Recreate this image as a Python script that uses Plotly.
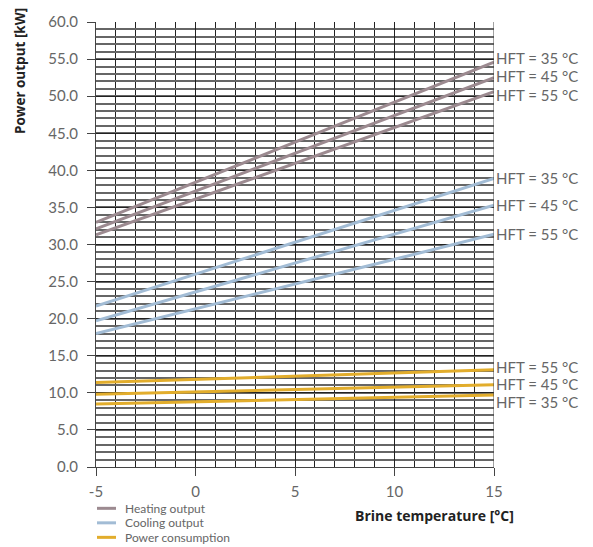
import plotly.graph_objects as go

brine_temp = [-5, 0, 5, 10, 15]

heating_35 = [33.0, 38.4, 43.8, 49.2, 54.6]
heating_45 = [32.1, 37.2, 42.3, 47.4, 52.5]
heating_55 = [31.3, 36.1, 40.9, 45.8, 50.6]
cooling_35 = [21.7, 26.0, 30.3, 34.6, 38.9]
cooling_45 = [19.7, 23.6, 27.5, 31.4, 35.3]
cooling_55 = [18.0, 21.3, 24.7, 28.0, 31.4]
power_55 = [11.4, 11.8, 12.2, 12.6, 13.1]
power_45 = [9.8, 10.1, 10.5, 10.8, 11.1]
power_35 = [8.5, 8.8, 9.1, 9.4, 9.7]

label_texts = ["HFT = 35 °C", "HFT = 45 °C", "HFT = 55 °C",
               "HFT = 35 °C", "HFT = 45 °C", "HFT = 55 °C",
               "HFT = 55 °C", "HFT = 45 °C", "HFT = 35 °C"]
label_y = [55.2, 52.7, 50.1, 38.9, 35.3, 31.4, 13.5, 11.2, 8.7]

x_ticks = [-5, 0, 5, 10, 15]
x_tick_labels = ["-5", "0", "5", "10", "15"]
y_ticks = [0, 5, 10, 15, 20, 25, 30, 35, 40, 45, 50, 55, 60]

legend_names = ["Heating output", "Cooling output", "Power consumption"]

C_HEAT = "#9c8a90"
C_COOL = "#a2bcd5"
C_POW = "#e2ad2c"
legend_colors = [C_HEAT, C_COOL, C_POW]

FONT = "Lato, Open Sans, sans-serif"

fig = go.Figure()

series = [
    (heating_35, C_HEAT, "Heating output"),
    (heating_45, C_HEAT, "Heating output"),
    (heating_55, C_HEAT, "Heating output"),
    (cooling_35, C_COOL, "Cooling output"),
    (cooling_45, C_COOL, "Cooling output"),
    (cooling_55, C_COOL, "Cooling output"),
    (power_55, C_POW, "Power consumption"),
    (power_45, C_POW, "Power consumption"),
    (power_35, C_POW, "Power consumption"),
]
for vals, col, name in series:
    fig.add_trace(go.Scatter(x=brine_temp, y=vals, mode="lines", name=name,
                             showlegend=False,
                             line=dict(color=col, width=3), hoverinfo="skip"))

for t, yv in zip(label_texts, label_y):
    fig.add_annotation(x=15, y=yv, xref="x", yref="y", text=t, showarrow=False,
                       xanchor="left", yanchor="middle", xshift=0,
                       font=dict(family=FONT, size=15, color="#666"))

# manual legend below the plot (paper coordinates)
PLOT_H = 444.7
PLOT_W = 398.0
legend_rows_px = [508, 522.5, 537]
for i, (nm, col) in enumerate(zip(legend_names, legend_colors)):
    ypp = (466.7 - legend_rows_px[i]) / PLOT_H
    fig.add_shape(type="line", xref="paper", yref="paper",
                  x0=(97 - 96) / PLOT_W, x1=(116 - 96) / PLOT_W, y0=ypp, y1=ypp,
                  line=dict(color=col, width=3))
    fig.add_annotation(x=(123 - 96) / PLOT_W, y=ypp, xref="paper", yref="paper",
                       text=nm, showarrow=False, xanchor="left", yanchor="middle",
                       font=dict(family=FONT, size=12, color="#666"))

fig.add_annotation(x=(20 - 96) / PLOT_W, y=(466.7 - 6) / PLOT_H, xref="paper", yref="paper",
                   text="<b>Power output [kW]</b>",
                   textangle=-90, showarrow=False, xanchor="center", yanchor="top",
                   font=dict(family="Open Sans, sans-serif", size=13.5, color="#222"))
fig.add_annotation(x=(434 - 96) / PLOT_W, y=(466.7 - 515) / PLOT_H, xref="paper", yref="paper",
                   text="<b>Brine temperature [°C]</b>",
                   showarrow=False, xanchor="center", yanchor="middle",
                   font=dict(family="Open Sans, sans-serif", size=14, color="#222"))

fig.update_layout(
    width=593, height=547,
    margin=dict(l=96, r=99, t=22, b=80),
    paper_bgcolor="white", plot_bgcolor="white",
    font=dict(family=FONT, size=15, color="#666"),
    showlegend=False,
    xaxis=dict(range=[-5, 15], tickvals=x_ticks, ticktext=x_tick_labels,
               ticks="outside", ticklen=8, ticklabelstandoff=3,
               tickcolor="#444", showgrid=True, gridcolor="#222", gridwidth=1,
               showline=True, linecolor="#444", linewidth=1,
               zeroline=False,
               minor=dict(dtick=1, showgrid=True, gridcolor="#222", gridwidth=1),
               tickfont=dict(family=FONT, size=15, color="#666")),
    yaxis=dict(range=[0, 60], tickvals=y_ticks, tickformat=".1f",
               ticks="outside", ticklen=8, ticklabelstandoff=6,
               tickcolor="#444", showgrid=True, gridcolor="#222", gridwidth=1,
               showline=True, linecolor="#444", linewidth=1, zeroline=False,
               minor=dict(dtick=1, showgrid=True, gridcolor="#666", gridwidth=1.5),
               tickfont=dict(family=FONT, size=15, color="#666")),
)
fig.add_shape(type="line", xref="x", yref="y", x0=15, x1=15, y0=0, y1=60,
              line=dict(color="#444", width=1))

fig.write_html("out.html")
